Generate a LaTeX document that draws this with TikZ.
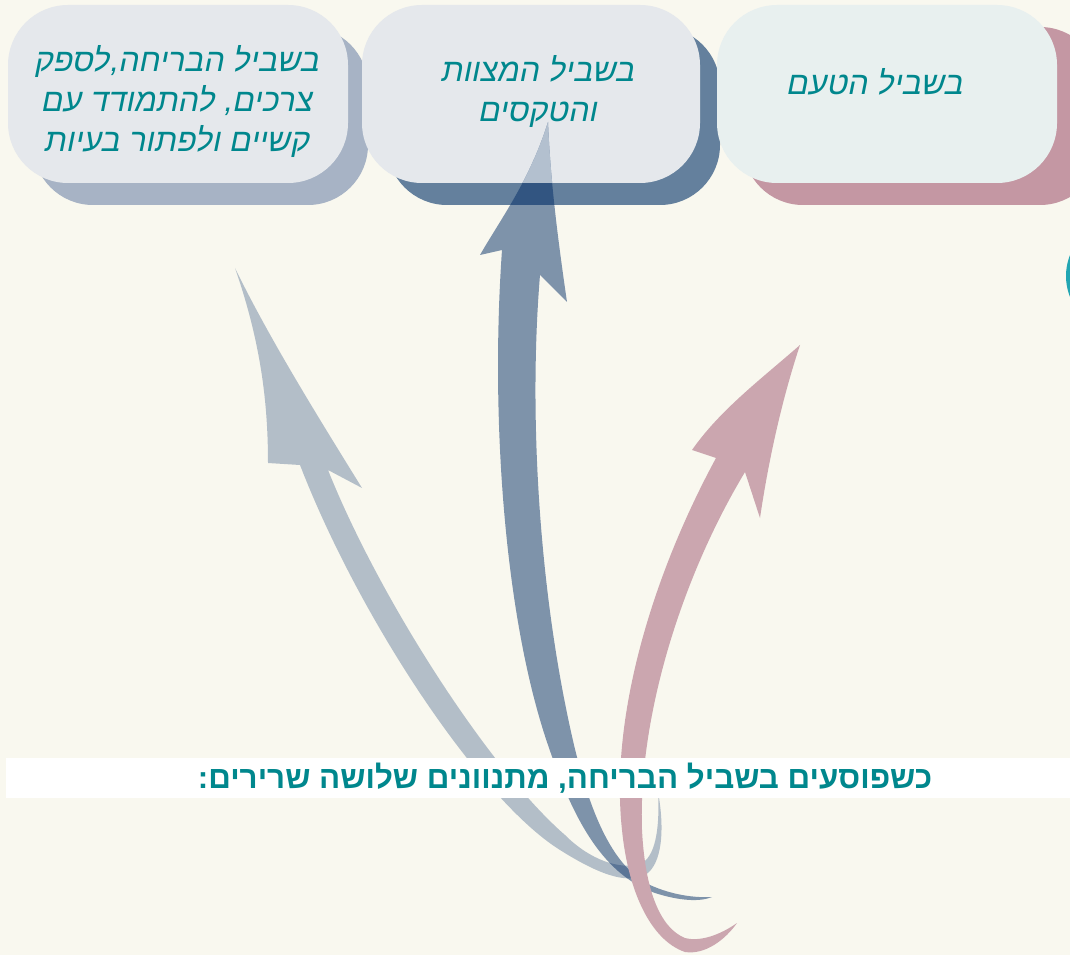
\documentclass[tikz,border=0pt]{standalone}
\usepackage{fontspec}
\TeXXeTstate=1
\newfontfamily\hebit[Script=Hebrew,FakeSlant=0.2]{Liberation Sans}
\newfontfamily\hebbf[Script=Hebrew]{Liberation Sans Bold}
\definecolor{bgc}{HTML}{F9F8EF}
\definecolor{boxa}{HTML}{E5E8EC}
\definecolor{boxc}{HTML}{E8F0EF}
\definecolor{shA}{HTML}{A7B3C5}
\definecolor{shB}{HTML}{64809D}
\definecolor{shC}{HTML}{C497A3}
\definecolor{tealc}{HTML}{00878D}
\definecolor{arrblue}{HTML}{002A64}
\definecolor{arrtip}{HTML}{B3C0CF}
\definecolor{pinkc}{HTML}{CBA6AF}
\definecolor{ellc}{HTML}{22A6B3}
\tikzset{
  rbox/.style={rounded corners=45pt},
  boxtext/.style={text=tealc, align=center, font=\hebit\fontsize{24}{30}\selectfont},
}
\begin{document}
\begin{tikzpicture}[x=0.75pt,y=-0.75pt]
\useasboundingbox (0,0) rectangle (1070,955);
\fill[bgc] (0,0) rectangle (1070,955);
% partial teal ellipse at right edge
\fill[ellc] (1106,276) ellipse [x radius=40, y radius=48];
% boxes with shadows
\fill[shA, rbox] (33,27) rectangle (368,205);
\fill[boxa, rbox] (8,5) rectangle (348,183);
\fill[shB, rbox] (387,27) rectangle (720,205);
\fill[boxa, rbox] (362,5) rectangle (700,183);
\fill[shC, rbox] (743,27) rectangle (1100,205);
\fill[boxc, rbox] (717,5) rectangle (1057,183);
% arrow 1 (light)
\fill[arrblue, fill opacity=0.28]
  (300,465) .. controls (360,620) and (480,800) .. (560,850)
  .. controls (595,872) and (625,885) .. (645,875)
  .. controls (662,865) and (665,830) .. (658,792)
  .. controls (660,830) and (655,858) .. (640,864)
  .. controls (620,870) and (590,860) .. (565,835)
  .. controls (490,770) and (380,600) .. (328,470)
  -- (362,488)
  .. controls (320,420) and (270,340) .. (235,268)
  .. controls (260,340) and (268,400) .. (268,463)
  -- cycle;
% arrow 2 (dark)
\def\arrowtwo{(502,250) .. controls (490,420) and (505,620) .. (548,745)
  .. controls (575,825) and (605,875) .. (655,893)
  .. controls (680,901) and (700,902) .. (712,897)
  .. controls (695,898) and (672,895) .. (650,885)
  .. controls (615,868) and (592,820) .. (574,745)
  .. controls (540,600) and (528,420) .. (540,275)
  -- (567,302)
  .. controls (555,220) and (550,170) .. (548,122)
  .. controls (530,180) and (500,220) .. (480,255)
  -- cycle}
\fill[arrblue, fill opacity=0.49] \arrowtwo;
\begin{scope}
  \clip[rbox] (362,5) rectangle (700,183);
  \fill[arrtip] \arrowtwo;
\end{scope}
% arrow 3 (pink)
\fill[pinkc]
  (716,458) .. controls (650,580) and (610,720) .. (622,830)
  .. controls (628,890) and (650,940) .. (685,952)
  .. controls (705,955) and (725,940) .. (737,923)
  .. controls (720,935) and (700,942) .. (685,938)
  .. controls (660,928) and (645,890) .. (642,830)
  .. controls (638,720) and (680,580) .. (745,472)
  -- (760,518)
  .. controls (770,450) and (785,390) .. (800,345)
  .. controls (760,380) and (720,410) .. (692,450)
  -- cycle;
% white strip
\fill[white] (6,758) rectangle (1070,798);
% texts
\node[boxtext] (t1) at (176,102) {\beginR בשביל הבריחה,לספק\endR\\ \beginR צרכים, להתמודד עם\endR\\ \beginR קשיים ולפתור בעיות\endR};
\node[boxtext] (t2) at (537,92) {\beginR בשביל המצוות\endR\\ \beginR והטקסים\endR};
\node[boxtext] (t3) at (874,82) {\beginR בשביל הטעם\endR};
\node[text=tealc, font=\hebbf\fontsize{23.5}{26}\selectfont] (t4) at (565,778) {\beginR כשפוסעים בשביל הבריחה, מתנוונים שלושה שרירים:\endR};
\end{tikzpicture}
\end{document}
